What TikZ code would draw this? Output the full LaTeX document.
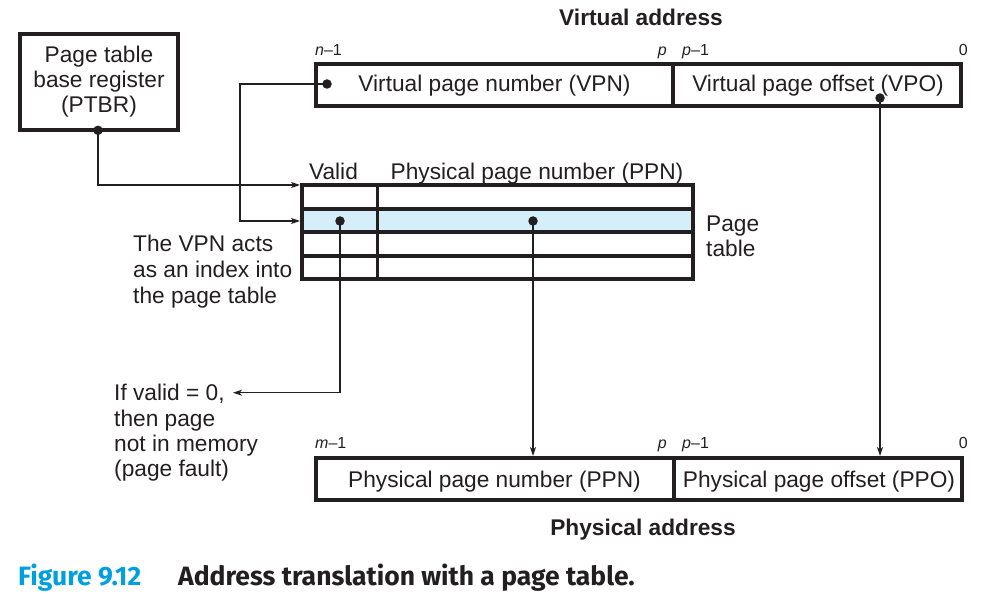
\documentclass[tikz,border=0pt]{standalone}
\usepackage{fontspec}
\setmainfont{Liberation Sans}
\newfontfamily\capfont{Fira Sans}
\usetikzlibrary{arrows.meta}
\definecolor{ink}{RGB}{35,31,32}
\definecolor{rowblue}{RGB}{212,238,250}
\definecolor{capblue}{RGB}{0,160,224}
\begin{document}
\begin{tikzpicture}[x=1pt,y=-1pt,
  lbl/.style={font=\fontsize{22.7}{26}\selectfont, text=ink, inner sep=0pt},
  bold/.style={font=\fontsize{22.7}{26}\selectfont\bfseries, text=ink, inner sep=0pt, anchor=base},
  bit/.style={font=\fontsize{16}{18}\selectfont, text=ink, inner sep=0pt},
  frame/.style={draw=ink, line width=3.9pt},
  field/.style={frame, inner sep=0pt, minimum height=42.1pt},
  conn/.style={draw=ink, line width=1.3pt},
  arr/.style={conn, -{Stealth[length=9pt,width=6pt,inset=2.5pt]}},
  dot/.style={fill=ink, circle, inner sep=0pt, minimum size=9.5pt},
]
\useasboundingbox (0,0) rectangle (1008,601);

% PTBR
\node[frame, minimum width=158.1pt, minimum height=96.1pt, inner sep=0pt] (ptbr) at (99,82) {};
\node[lbl, align=center, anchor=base] (ptbrtxt) at (99,113) {Page table\\[-1pt]base register\\[-1pt](PTBR)};
\node[dot] (ptbrdot) at (98,130.3) {};

% Virtual address
\node[bold] (vatitle) at (641,26) {Virtual address};
\node[field, minimum width=357.1pt] (vpn) at (494.5,85) {};
\node[field, minimum width=288.1pt] (vpo) at (817.1,85) {};
\node[lbl, anchor=base] (vpntxt) at (494.5,92) {Virtual page number (VPN)};
\node[lbl, anchor=base] (vpotxt) at (818,92) {Virtual page offset (VPO)};
\node[bit, anchor=base west] (vbn) at (315,56) {\itshape n\upshape–1};
\node[bit, anchor=base east] (vbp) at (667,56) {\itshape p};
\node[bit, anchor=base west] (vbp1) at (682,56) {\itshape p\upshape–1};
\node[bit, anchor=base east] (vb0) at (968,56) {0};
\node[dot] (vpndot) at (327,84) {};
\node[dot] (vpodot) at (880,98) {};

% Page table
\fill[rowblue] (301.7,209) rectangle (693.3,232);
\draw[frame] (301.9,184.9) rectangle (693.1,279.1);
\draw[frame] (301.9,209) -- (693.1,209);
\draw[frame] (301.9,232) -- (693.1,232);
\draw[frame] (301.9,256) -- (693.1,256);
\draw[frame] (377.5,184.9) -- (377.5,279.1);
\coordinate (ptentry) at (300,221);
\coordinate (ptbase) at (300,185);
\node[lbl, anchor=base] (validlbl) at (333.5,180) {Valid};
\node[lbl, anchor=base] (ppnlbl) at (537,180) {Physical page number (PPN)};
\node[dot] (validdot) at (340,221) {};
\node[dot] (ppndot) at (533,221) {};
\node[lbl, anchor=base west, align=left] (ptlbl) at (706,257) {Page\\[-1pt]table};
\node[lbl, anchor=base west, align=left] (vpnnote) at (133,304) {The VPN acts\\as an index into\\the page table};
\node[lbl, anchor=base west, align=left] (faultnote) at (114,476.7) {If valid = 0,\\[-0.7pt]then page\\[-0.7pt]not in memory\\[-0.7pt](page fault)};
\coordinate (faulttip) at (233,392.7);
\coordinate (vpnturn) at (240,84);

% Physical address
\node[field, minimum width=358.1pt] (ppn) at (494.9,479) {};
\node[field, minimum width=288.1pt] (ppo) at (818.1,479) {};
\node[lbl, anchor=base] (ppntxt) at (494.5,487) {Physical page number (PPN)};
\node[lbl, anchor=base] (ppotxt) at (819,487) {Physical page offset (PPO)};
\node[bit, anchor=base west] (pbm) at (315,448) {\itshape m\upshape–1};
\node[bit, anchor=base east] (pbp) at (667,448) {\itshape p};
\node[bit, anchor=base west] (pbp1) at (682,448) {\itshape p\upshape–1};
\node[bit, anchor=base east] (pb0) at (968,448) {0};
\node[bold] (patitle) at (643,535) {Physical address};

% connectors
\draw[arr] (ptbrdot.center) |- (ptbase);
\draw[arr] (vpndot.center) -- (vpnturn) |- (ptentry);
\draw[arr] (validdot.center) |- (faulttip);
\draw[arr] (ppndot.center) -- (ppndot.center |- ppn.north);
\draw[arr] (vpodot.center) -- (vpodot.center |- ppo.north);

% caption
\node[anchor=base west, inner sep=0pt, font=\fontsize{26.5}{30}\selectfont\capfont\bfseries, text=capblue] (figno) at (18,585) {Figure 9.12};
\node[anchor=base west, inner sep=0pt, font=\fontsize{26.5}{30}\selectfont\capfont\bfseries, text=ink] (figcap) at (178,585) {Address translation with a page table.};
\end{tikzpicture}
\end{document}
